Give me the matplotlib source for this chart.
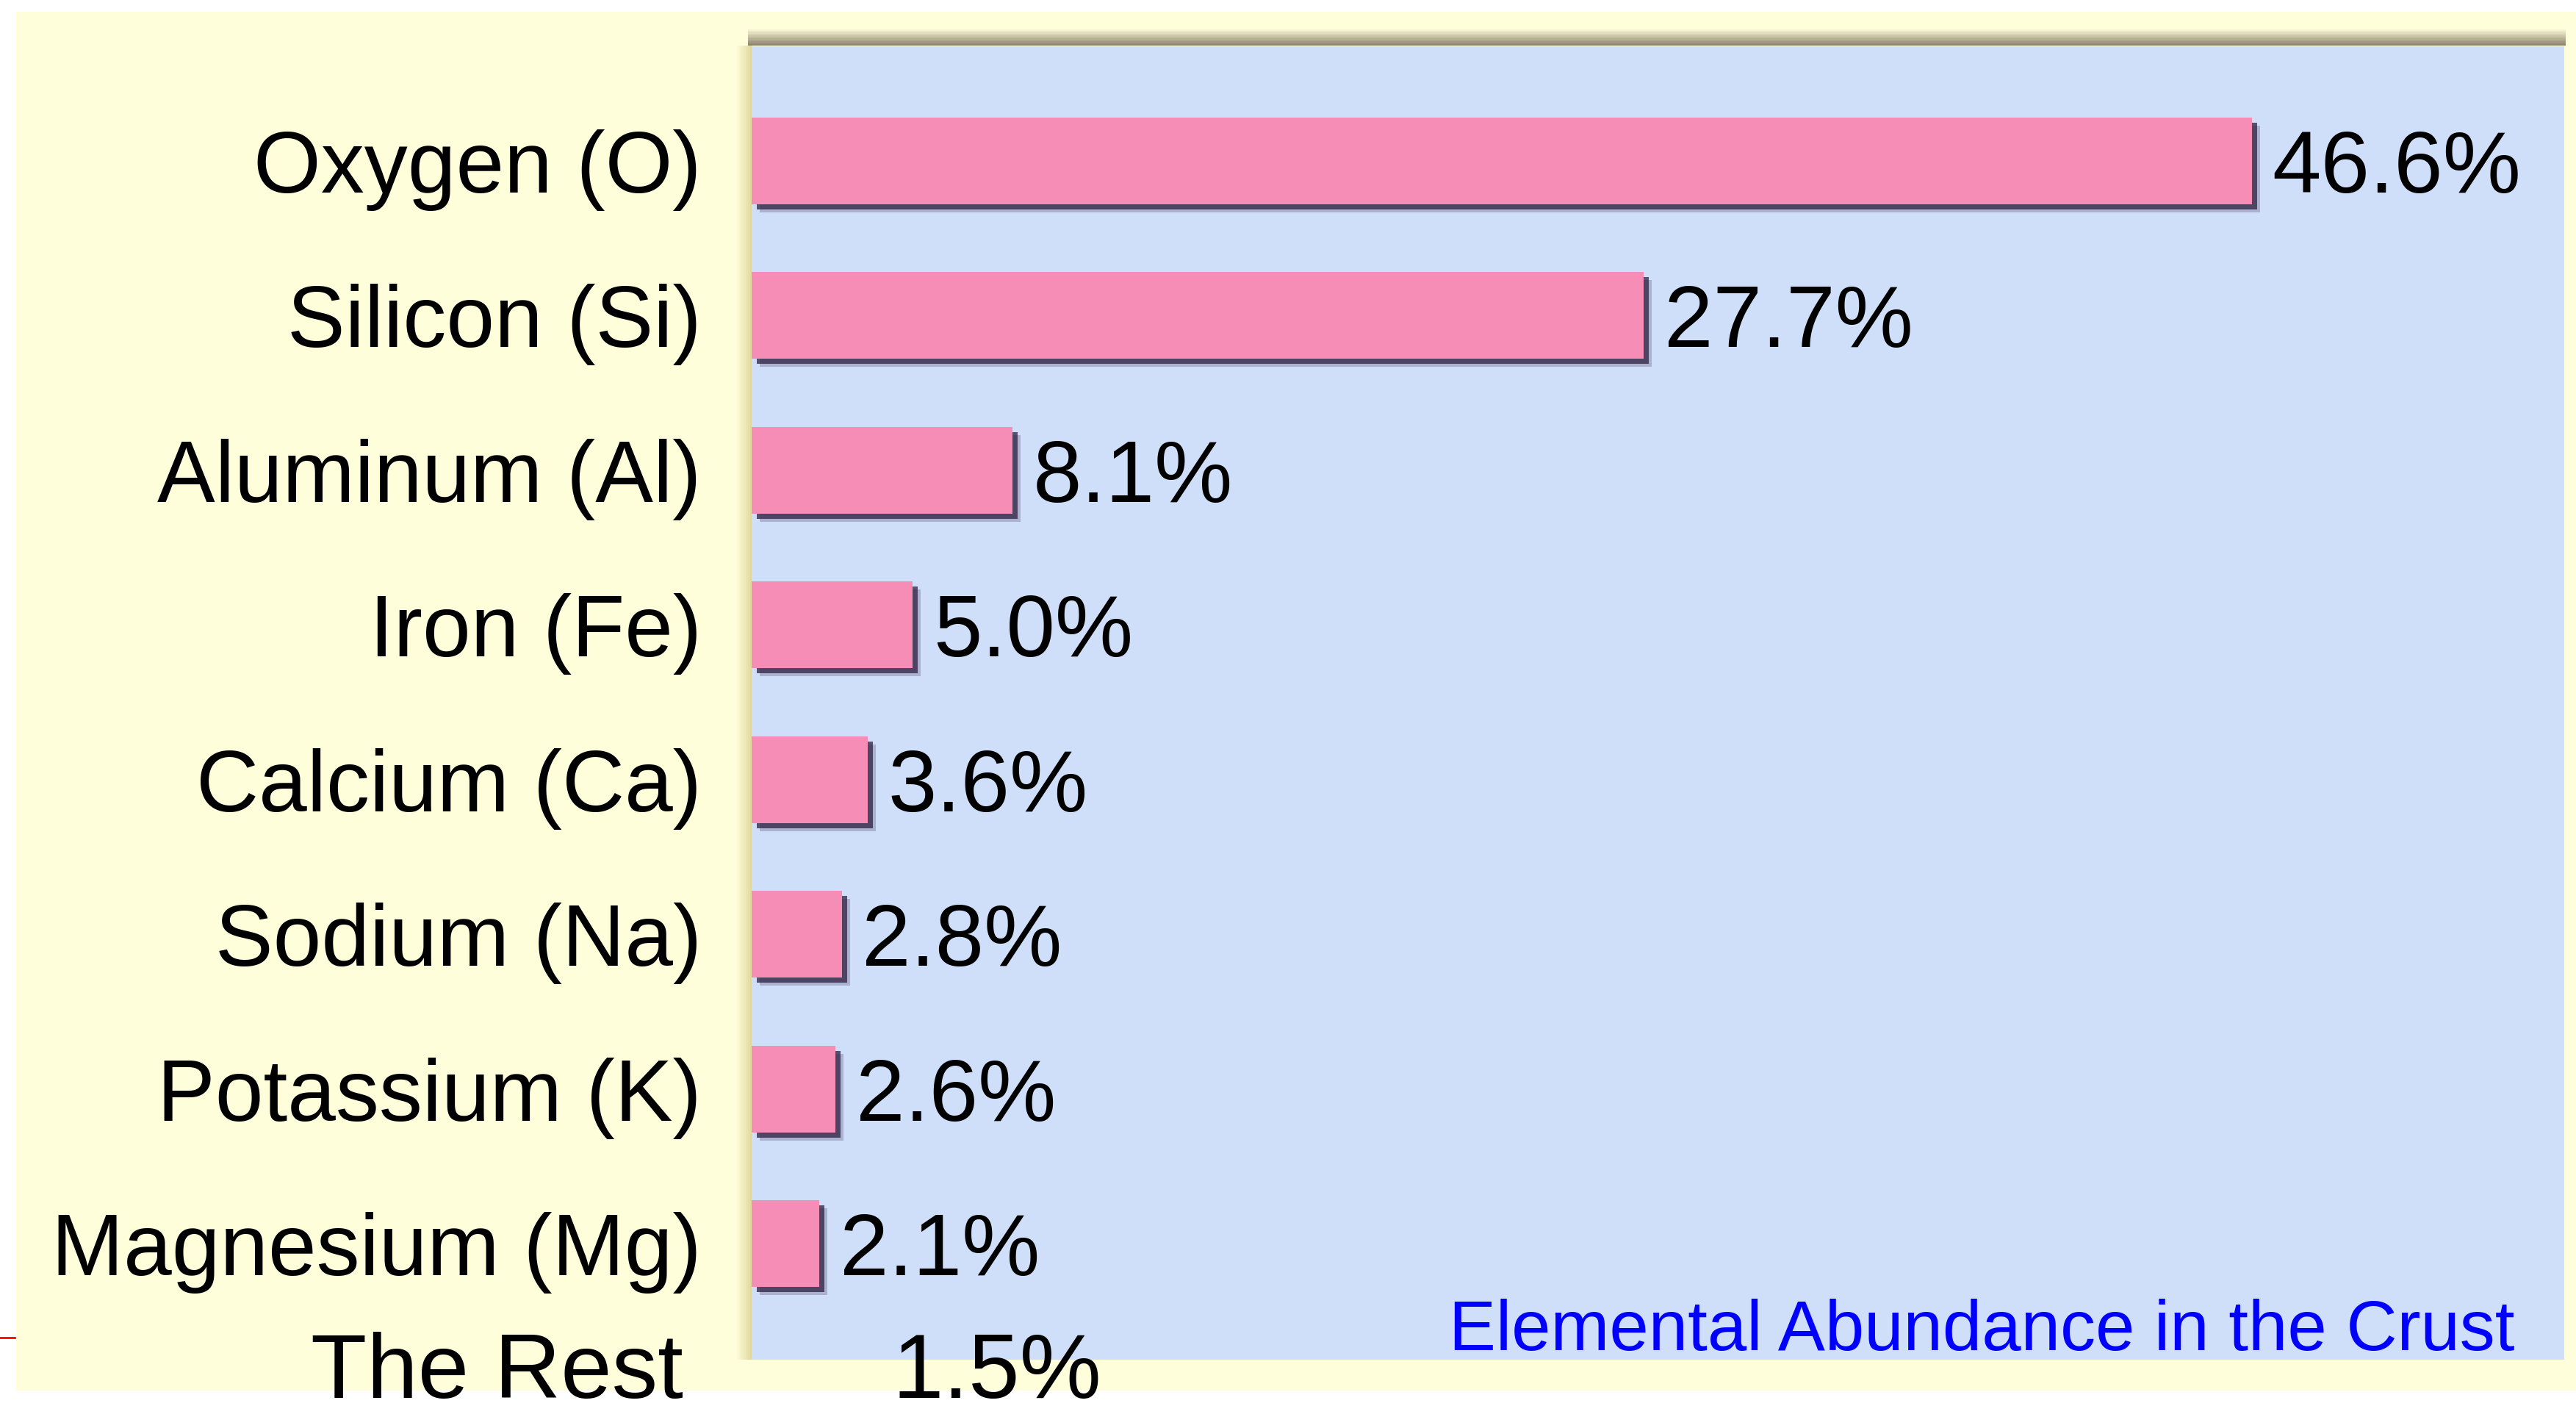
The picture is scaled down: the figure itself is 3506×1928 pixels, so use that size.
#Elemental abundance in the crust - horizontal bars
import matplotlib.pyplot as plt
import matplotlib.patheffects as pe
from matplotlib.patches import Rectangle
from matplotlib.lines import Line2D
import numpy as np

elements = ["Oxygen (O)", "Silicon (Si)", "Aluminum (Al)", "Iron (Fe)",
            "Calcium (Ca)", "Sodium (Na)", "Potassium (K)", "Magnesium (Mg)"]
percent = [46.6, 27.7, 8.1, 5.0, 3.6, 2.8, 2.6, 2.1]
rest_label = "The Rest"
rest_value = 1.5
caption = "Elemental Abundance in the Crust"

W, H = 3506, 1928
plt.rcParams['font.family'] = ['Liberation Sans', 'DejaVu Sans']

fig = plt.figure(figsize=(W/100, H/100), dpi=100)
fig.patch.set_facecolor("white")

#----- cream panel behind everything -----
fig.patches.append(Rectangle((22/W, 1-1892/H), 1-22/W, (1892-16)/H,
                             transform=fig.transFigure, facecolor="#fefedb",
                             edgecolor="none", zorder=0))

#----- shadow band above the blue plot area -----
c0 = np.array([0.996, 0.996, 0.86])
c1 = np.array([0.56, 0.52, 0.42])
nb = 12
for k in range(nb):
    t = k/(nb-1)
    col = c0*(1-t)+c1*t
    y0 = 38 + k*2
    fig.patches.append(Rectangle((1018/W, 1-(y0+2)/H), (3492-1018)/W, 2/H,
                                 transform=fig.transFigure, facecolor=col,
                                 edgecolor="none", zorder=1))
#left edge shade
for k in range(8):
    t = k/7
    col = np.array([0.996, 0.996, 0.86])*(1-t)+np.array([0.88, 0.85, 0.62])*t
    fig.patches.append(Rectangle(((1000+k*3)/W, 1-1850/H), 3/W, (1850-62)/H,
                                 transform=fig.transFigure, facecolor=col,
                                 edgecolor="none", zorder=1))

ax = fig.add_axes([1023/W, 1-1850/H, (3490-1023)/W, (1850-63)/H])
ax.set_zorder(2)
ax.set_facecolor("#cfdffa")

y = np.arange(len(elements))
bars = ax.barh(y, percent, height=0.56, color="#f58db6", edgecolor="none", zorder=3)
for b in bars:
    b.set_path_effects([pe.SimplePatchShadow(offset=(8, -8), shadow_rgbFace="#5a4a70", alpha=0.3),
                        pe.SimplePatchShadow(offset=(5, -5), shadow_rgbFace="#2e2040", alpha=0.75),
                        pe.Normal()])

for i in range(len(percent)):
    ax.annotate("%.1f%%" % percent[i], xy=(percent[i], y[i]), xytext=(20, 0),
                textcoords="offset points", va="center_baseline", ha="left",
                fontsize=86, color="black", zorder=4)

ax.set_xlim(0, 56.3)
ax.set_ylim(7.75, -0.74)
ax.set_yticks(y)
ax.set_yticklabels(elements, fontsize=85)
ax.set_xticks([])
ax.tick_params(axis="y", length=0, pad=49)
for s in ax.spines.values():
    s.set_visible(False)

#----- loose texts under the chart -----
fig.text(423/W, 1-1902/H, rest_label, fontsize=90, ha="left", va="baseline", zorder=5)
fig.text(1214/W, 1-1902/H, "%.1f%%" % rest_value, fontsize=90, ha="left", va="baseline", zorder=5)
fig.text(1972/W, 1-1837/H, caption, fontsize=69, color="#0000ff", ha="left", va="baseline", zorder=5)

fig.lines.append(Line2D([0, 20/W], [1-1820/H, 1-1820/H], transform=fig.transFigure,
                        color="red", lw=2))

plt.savefig("out.png", dpi=100)
